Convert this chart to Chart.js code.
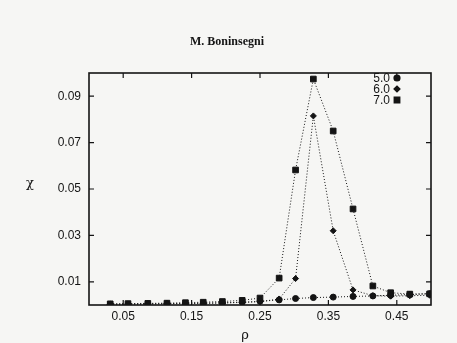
<!DOCTYPE html>
<html>
<head>
<meta charset="utf-8">
<script src="https://cdn.jsdelivr.net/npm/chart.js@4"></script>
<style>
  html, body { margin: 0; padding: 0; background: #f6f6f4; }
  #wrap { width: 457px; height: 343px; }
</style>
</head>
<body>
<div id="wrap"><canvas id="chart" width="457" height="343"></canvas></div>
<script>
// density values (x) shared by all series
const rho = [0.031, 0.057, 0.086, 0.114, 0.141, 0.167, 0.195, 0.224, 0.250,
             0.278, 0.302, 0.328, 0.357, 0.386, 0.415, 0.441, 0.469, 0.498];

const chi50 = [0.0003, 0.0003, 0.0004, 0.0005, 0.0006, 0.0007, 0.0009, 0.0012, 0.0016,
               0.0022, 0.0028, 0.0032, 0.0034, 0.0037, 0.0039, 0.0042, 0.0045, 0.0049];
const chi60 = [0.0003, 0.0004, 0.0005, 0.0006, 0.0007, 0.0008, 0.0009, 0.0011, 0.0014,
               0.0026, 0.0114, 0.0815, 0.0320, 0.0065, 0.0040, 0.0038, 0.0040, 0.0042];
const chi70 = [0.0005, 0.0006, 0.0007, 0.0008, 0.0010, 0.0012, 0.0015, 0.0020, 0.0030,
               0.0116, 0.0582, 0.0974, 0.0750, 0.0414, 0.0082, 0.0053, 0.0047, 0.0048];

const seriesLabels = ['5.0', '6.0', '7.0'];
const xTicks = [0.05, 0.15, 0.25, 0.35, 0.45];
const yTicks = [0.01, 0.03, 0.05, 0.07, 0.09];

function pts(ys) {
    return rho.map((x, i) => ({ x: x, y: ys[i] }));
}

const ink = '#141414';
const markers = [
    { style: 'circle', radius: 3 },
    { style: 'rectRot', radius: 3 },
    { style: 'rect', radius: 4 }
];

const datasets = [chi50, chi60, chi70].map((ys, i) => ({
    label: seriesLabels[i],
    data: pts(ys),
    showLine: true,
    borderColor: ink,
    borderWidth: 1,
    borderDash: [1, 2],
    backgroundColor: ink,
    pointStyle: markers[i].style,
    pointRadius: markers[i].radius,
    pointBorderColor: ink,
    pointBackgroundColor: ink
}));

// frame, inward ticks, texts and legend
const decorations = {
    id: 'decorations',
    beforeDraw(chart) {
        const ctx = chart.ctx;
        ctx.save();
        ctx.fillStyle = '#f6f6f4';
        ctx.fillRect(0, 0, chart.width, chart.height);
        ctx.restore();
    },
    afterDraw(chart) {
        const ctx = chart.ctx;
        const a = chart.chartArea;
        const xs = chart.scales.x, ys = chart.scales.y;
        ctx.save();
        ctx.strokeStyle = ink;
        ctx.lineWidth = 1.6;
        ctx.strokeRect(a.left, a.top, a.right - a.left, a.bottom - a.top);

        ctx.lineWidth = 1.2;
        ctx.beginPath();
        xTicks.forEach(v => {
            const px = xs.getPixelForValue(v);
            ctx.moveTo(px, a.bottom); ctx.lineTo(px, a.bottom - 5);
            ctx.moveTo(px, a.top); ctx.lineTo(px, a.top + 5);
        });
        yTicks.forEach(v => {
            const py = ys.getPixelForValue(v);
            ctx.moveTo(a.left, py); ctx.lineTo(a.left + 5, py);
            ctx.moveTo(a.right, py); ctx.lineTo(a.right - 5, py);
        });
        ctx.stroke();

        ctx.fillStyle = ink;
        ctx.textAlign = 'center';
        ctx.textBaseline = 'middle';
        ctx.font = 'bold 12px "Liberation Serif", serif';
        ctx.fillText('M. Boninsegni', 227, 42);
        ctx.font = '13px "DejaVu Serif", serif';
        ctx.fillText('χ', 30, 184);
        ctx.fillText('ρ', 245, 336);

        // legend: label then marker
        ctx.font = '12px "Liberation Sans", Arial, sans-serif';
        seriesLabels.forEach((lab, i) => {
            const y = 78 + i * 11;
            ctx.textAlign = 'right';
            ctx.fillText(lab, 390, y + 0.5);
            Chart.helpers.drawPoint(ctx, {
                pointStyle: markers[i].style,
                radius: markers[i].radius,
                borderWidth: 1
            }, 397, y);
            ctx.fill();
        });
        ctx.restore();
    }
};

new Chart(document.getElementById('chart'), {
    type: 'scatter',
    data: { datasets: datasets },
    options: {
        responsive: false,
        animation: false,
        layout: { padding: { left: 0, top: 73, right: 26, bottom: 0 } },
        plugins: {
            legend: { display: false },
            tooltip: { enabled: false }
        },
        scales: {
            x: {
                type: 'linear',
                min: 0,
                max: 0.5,
                grid: { display: false, tickLength: 4 },
                border: { display: false },
                afterBuildTicks: s => { s.ticks = xTicks.map(v => ({ value: v })); },
                afterFit: s => { s.height = 38; },
                ticks: {
                    padding: 0,
                    color: ink,
                    font: { family: '"Liberation Sans", Arial, sans-serif', size: 12 },
                    callback: v => v.toFixed(2)
                }
            },
            y: {
                type: 'linear',
                min: 0,
                max: 0.1,
                grid: { display: false, tickLength: 0 },
                border: { display: false },
                afterBuildTicks: s => { s.ticks = yTicks.map(v => ({ value: v })); },
                afterFit: s => { s.width = 89; },
                ticks: {
                    padding: 8,
                    color: ink,
                    font: { family: '"Liberation Sans", Arial, sans-serif', size: 12 },
                    callback: v => v.toFixed(2)
                }
            }
        }
    },
    plugins: [decorations]
});
</script>
</body>
</html>
